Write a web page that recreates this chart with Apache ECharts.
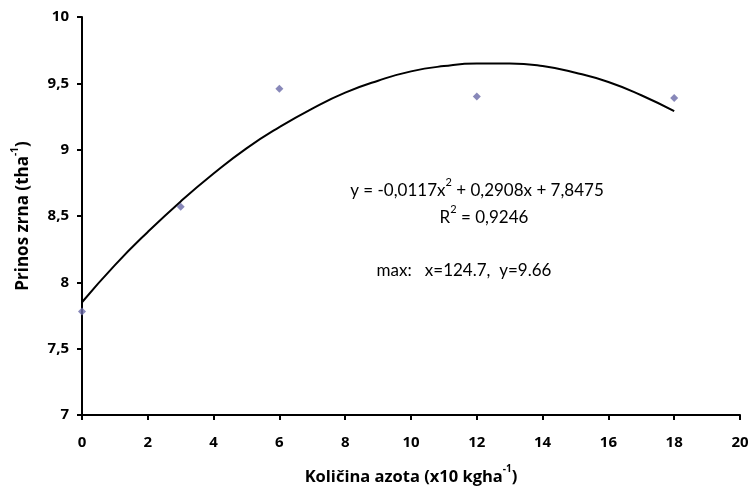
<!DOCTYPE html>
<html>
<head>
<meta charset="utf-8">
<script src="https://cdn.jsdelivr.net/npm/echarts@6/dist/echarts.min.js"></script>
<style>html,body{margin:0;padding:0;background:#fff;}#c{width:753px;height:493px;}</style>
</head>
<body>
<div id="c"></div>
<script>
// Measured points
const pointX = [0, 3, 6, 12, 18];
const pointY = [7.78, 8.57, 9.46, 9.40, 9.39];
// Trend curve (polynomial trendline)
const curveX = [0,1,2,3,4,5,6,7,8,9,10,11,12,13,14,15,16,17,18];
const curveY = [7.85,8.13,8.38,8.61,8.82,9.01,9.17,9.31,9.43,9.52,9.59,9.63,9.65,9.65,9.63,9.58,9.51,9.41,9.29];
const xTicks = [0,2,4,6,8,10,12,14,16,18,20];
const yTicks = [7,7.5,8,8.5,9,9.5,10];

const BFONT = '"Open Sans", "Noto Sans", sans-serif';
const FONT = 'Lato, "Open Sans", sans-serif';
const chart = echarts.init(document.getElementById('c'), null, {renderer:'canvas'});
const axisLine = {show:true, lineStyle:{color:'#000', width:2}};
const axisTick = {show:true, inside:false, length:5, lineStyle:{color:'#000', width:2}};
const supRich = (size, supSize, lh, font, bold) => ({
  t:{fontWeight:bold?'bold':'normal', fontSize:size, fontFamily:font, color:'#000', lineHeight:lh, verticalAlign:'bottom'},
  s:{fontWeight:bold?'bold':'normal', fontSize:supSize, fontFamily:font, color:'#000', lineHeight:supSize+2, verticalAlign:'top'}
});

chart.setOption({
  animation:false,
  backgroundColor:'#fff',
  grid:{left:82, right:13, top:17, bottom:78, containLabel:false},
  xAxis:{
    type:'value', min:0, max:20, interval:2,
    axisLine, axisTick, splitLine:{show:false},
    axisLabel:{color:'#000', fontWeight:'bold', fontSize:15, fontFamily:BFONT, margin:20,
      formatter:v=>String(v)},
    name:'{t|Količina azota (x10 kgha}{s|-1}{t|)}',
    nameLocation:'middle', nameGap:49,
    nameTextStyle:{rich:supRich(16.5, 10, 22, BFONT, true)}
  },
  yAxis:{
    type:'value', min:7, max:10, interval:0.5,
    axisLine, axisTick, splitLine:{show:false},
    axisLabel:{color:'#000', fontWeight:'bold', fontSize:15, fontFamily:BFONT, margin:13,
      formatter:v=>String(v).replace('.',',')},
    name:'{t|Prinos zrna (tha}{s|-1}{t|)}',
    nameLocation:'middle', nameGap:50, nameRotate:90,
    nameTextStyle:{rich:supRich(17, 10, 22, BFONT, true)}
  },
  series:[
    {
      type:'line', smooth:true, showSymbol:false,
      data:curveX.map((x,i)=>[x,curveY[i]]),
      lineStyle:{color:'#000', width:2}, z:2
    },
    {
      type:'scatter', symbol:'diamond', symbolSize:8,
      data:pointX.map((x,i)=>[x,pointY[i]]),
      itemStyle:{color:'#6a6aa8'}, z:3
    }
  ],
  graphic:[
    {type:'text', x:477, y:188, style:{
      text:'{a|y = -0,0117x}{s|2}{a| + 0,2908x + 7,8475}', align:'center', verticalAlign:'middle',
      rich:{a:{fontSize:17, fontFamily:FONT, fill:'#000', lineHeight:22, verticalAlign:'bottom'}, s:{fontSize:11, fontFamily:FONT, fill:'#000', lineHeight:12, verticalAlign:'top'}}
    }},
    {type:'text', x:484, y:215, style:{
      text:'{a|R}{s|2}{a| = 0,9246}', align:'center', verticalAlign:'middle',
      rich:{a:{fontSize:17, fontFamily:FONT, fill:'#000', lineHeight:22, verticalAlign:'bottom'}, s:{fontSize:11, fontFamily:FONT, fill:'#000', lineHeight:12, verticalAlign:'top'}}
    }},
    {type:'text', x:464, y:271, style:{
      text:'max:   x=124.7,  y=9.66', align:'center', verticalAlign:'middle',
      fontSize:17, fontFamily:FONT, fill:'#000'
    }}
  ]
});
</script>
</body>
</html>
